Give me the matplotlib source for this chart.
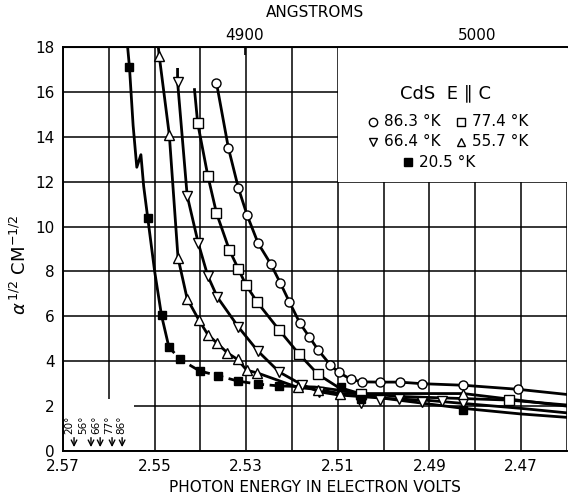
import numpy as np
import matplotlib
matplotlib.use('Agg')
import matplotlib.pyplot as plt
from matplotlib.patches import Rectangle

plt.rcParams['font.family'] = ['DejaVu Sans']

# 86.3 K  (open circles)
e_863 = [2.5365, 2.5339, 2.5317, 2.5298, 2.5274, 2.5247, 2.5226, 2.5206, 2.5183, 2.5163,
         2.5143, 2.5117, 2.5098, 2.5072, 2.5048, 2.5008, 2.4965, 2.4917, 2.4826, 2.4707]
a_863 = [16.4, 13.5, 11.7, 10.5, 9.25, 8.35, 7.5, 6.65, 5.7, 5.1,
         4.5, 3.85, 3.5, 3.2, 3.08, 3.07, 3.07, 3.0, 2.93, 2.75]
line_e_863 = e_863 + [2.460]
line_a_863 = a_863 + [2.52]

# 77.4 K  (open squares)
e_774 = [2.5406, 2.5384, 2.5365, 2.5337, 2.5317, 2.5301, 2.5276, 2.5229, 2.5184, 2.5143,
         2.5050, 2.4727]
a_774 = [14.6, 12.27, 10.6, 8.96, 8.1, 7.41, 6.63, 5.41, 4.30, 3.41,
         2.53, 2.27]
line_e_774 = [2.5413, 2.5406, 2.5384, 2.5365, 2.5337, 2.5317, 2.5301, 2.5276, 2.5229, 2.5184,
              2.5143, 2.510, 2.5050, 2.495, 2.4727, 2.460]
line_a_774 = [16.1, 14.6, 12.27, 10.6, 8.96, 8.1, 7.41, 6.63, 5.41, 4.30,
              3.41, 2.85, 2.55, 2.42, 2.27, 2.05]

# 66.4 K  (open down triangles)
e_664 = [2.5450, 2.5429, 2.5405, 2.5384, 2.5363, 2.5317, 2.5275, 2.5228, 2.5179, 2.5141,
         2.5049, 2.5008, 2.4966, 2.4917, 2.4872, 2.4826]
a_664 = [16.46, 11.38, 9.28, 7.8, 6.85, 5.52, 4.46, 3.52, 2.96, 2.64,
         2.15, 2.27, 2.30, 2.20, 2.24, 2.12]
line_e_664 = [2.5450, 2.5450, 2.5429, 2.5405, 2.5384, 2.5363, 2.5317, 2.5275, 2.5228, 2.5179,
              2.5141, 2.510, 2.500, 2.490, 2.4826, 2.470, 2.460]
line_a_664 = [17.0, 16.46, 11.38, 9.28, 7.8, 6.85, 5.52, 4.46, 3.52, 2.96,
              2.64, 2.50, 2.35, 2.25, 2.12, 1.90, 1.70]

# 55.7 K  (open up triangles)
e_557 = [2.5490, 2.5468, 2.5449, 2.5429, 2.5403, 2.5384, 2.5364, 2.5341, 2.5319, 2.5299,
         2.5276, 2.5187, 2.5143, 2.5095, 2.4826]
a_557 = [17.6, 14.08, 8.61, 6.78, 5.82, 5.19, 4.81, 4.37, 4.08, 3.6,
         3.48, 2.83, 2.74, 2.56, 2.56]
line_e_557 = [2.5492] + e_557 + [2.470, 2.460]
line_a_557 = [18.0] + a_557 + [2.25, 2.0]

# 20.5 K  (filled squares)
e_205 = [2.5555, 2.5515, 2.5485, 2.5469, 2.5445, 2.5402, 2.5361, 2.5317, 2.5274, 2.5228,
         2.5094, 2.5050, 2.4826]
a_205 = [17.1, 10.37, 6.04, 4.64, 4.09, 3.57, 3.35, 3.11, 2.98, 2.90,
         2.83, 2.31, 1.82]
solid_e_205 = [2.5559, 2.5555, 2.5547, 2.5539, 2.5530, 2.5524, 2.5515, 2.5500, 2.5485, 2.5469]
solid_a_205 = [18.0, 17.1, 14.5, 12.64, 13.2, 11.8, 10.37, 8.0, 6.04, 4.64]
dash_e_205 = [2.5469, 2.5445, 2.5402, 2.5361, 2.5317, 2.5274, 2.5228]
dash_a_205 = [4.64, 4.09, 3.57, 3.35, 3.11, 2.98, 2.90]
tail_e_205 = [2.5228, 2.515, 2.5094, 2.500, 2.4826, 2.470, 2.460]
tail_a_205 = [2.90, 2.85, 2.70, 2.35, 1.90, 1.65, 1.50]

# band-gap arrows on the energy axis
arrow_e = [2.5676, 2.5639, 2.5619, 2.5593, 2.5571]
arrow_lbl_e = [2.5686, 2.5656, 2.5628, 2.5600, 2.5572]
arrow_lbl = ['20°', '56°', '66°', '77°', '86°']

fig = plt.figure(figsize=(5.68, 4.94), dpi=100)
ax = fig.add_axes([0.111, 0.087, 0.887, 0.818])

ax.set_xlim(2.57, 2.46)
ax.set_ylim(0, 18)
ax.set_xticks([2.57, 2.55, 2.53, 2.51, 2.49, 2.47])
ax.set_xticklabels(['2.57', '2.55', '2.53', '2.51', '2.49', '2.47'])
ax.set_xticks(np.arange(2.46, 2.571, 0.01), minor=True)
ax.set_yticks(range(0, 19, 2))
ax.tick_params(axis='both', which='both', length=0, labelsize=11, pad=6)
ax.grid(True, which='both', axis='x', color='black', lw=1.1)
ax.grid(True, which='major', axis='y', color='black', lw=1.1)
ax.set_axisbelow(True)
for s in ax.spines.values():
    s.set_linewidth(1.4)
ax.spines['right'].set_visible(False)

# blank areas of the original grid
ax.add_patch(Rectangle((2.51, 12), -0.06, 6.2, facecolor='white', edgecolor='none', zorder=1))
ax.add_patch(Rectangle((2.5699, 0.05), -0.0154, 2.25, facecolor='white', edgecolor='none', zorder=1))

lw = 2.0
ax.plot(line_e_863, line_a_863, color='black', lw=lw, zorder=3)
ax.plot(line_e_774, line_a_774, color='black', lw=lw, zorder=3)
ax.plot(line_e_664, line_a_664, color='black', lw=lw, zorder=3)
ax.plot(line_e_557, line_a_557, color='black', lw=lw, zorder=3)
ax.plot(solid_e_205, solid_a_205, color='black', lw=lw, zorder=3)
ax.plot(dash_e_205, dash_a_205, color='black', lw=lw, ls=(0, (3, 2)), zorder=3)
ax.plot(tail_e_205, tail_a_205, color='black', lw=lw, zorder=3)

mk = dict(ls='none', mfc='white', mec='black', mew=1.0, ms=6.5, zorder=4)
ax.plot(e_863, a_863, marker='o', **mk)
ax.plot(e_774, a_774, marker='s', **mk)
ax.plot(e_664, a_664, marker='v', **mk)
ax.plot(e_557, a_557, marker='^', **mk)
ax.plot(e_205, a_205, marker='s', ls='none', color='black', ms=5.5, zorder=5)

for e, le, lbl in zip(arrow_e, arrow_lbl_e, arrow_lbl):
    ax.annotate('', xy=(e, 0.05), xytext=(e, 0.72),
                arrowprops=dict(arrowstyle='->', color='black', lw=1.0), zorder=6)
    ax.text(le, 0.78, lbl, rotation=90, ha='center', va='bottom', fontsize=7.5, zorder=6)

# legend block
ax.text(0.76, 0.885, 'CdS  E \u2225 C', transform=ax.transAxes, ha='center', va='center', fontsize=13)
rows = [(0.615, 0.815, 'o', '86.3 °K', 'white'), (0.79, 0.815, 's', '77.4 °K', 'white'),
        (0.615, 0.765, 'v', '66.4 °K', 'white'), (0.79, 0.765, '^', '55.7 °K', 'white'),
        (0.685, 0.715, 's', '20.5 °K', 'black')]
for x, y, m, t, fc in rows:
    ax.plot([x], [y], marker=m, transform=ax.transAxes, mfc=fc, mec='black', ms=6, ls='none')
    ax.text(x + 0.022, y, t, transform=ax.transAxes, ha='left', va='center', fontsize=11)

ax.set_xlabel('PHOTON ENERGY IN ELECTRON VOLTS', fontsize=11, labelpad=4)
ax.text(-0.085, 0.46, r'$\alpha^{\,1/2}$ CM$^{-1/2}$', transform=ax.transAxes,
        rotation=90, ha='center', va='center', fontsize=13)

top = ax.secondary_xaxis('top', functions=(lambda e: 12398.4 / e, lambda l: 12398.4 / l))
top.set_xticks([4900, 5000])
top.tick_params(direction='in', length=6, width=1.2, labelsize=11, pad=3)
top.set_xlabel('ANGSTROMS', fontsize=11, labelpad=8)

fig.savefig('out.png', dpi=100)
